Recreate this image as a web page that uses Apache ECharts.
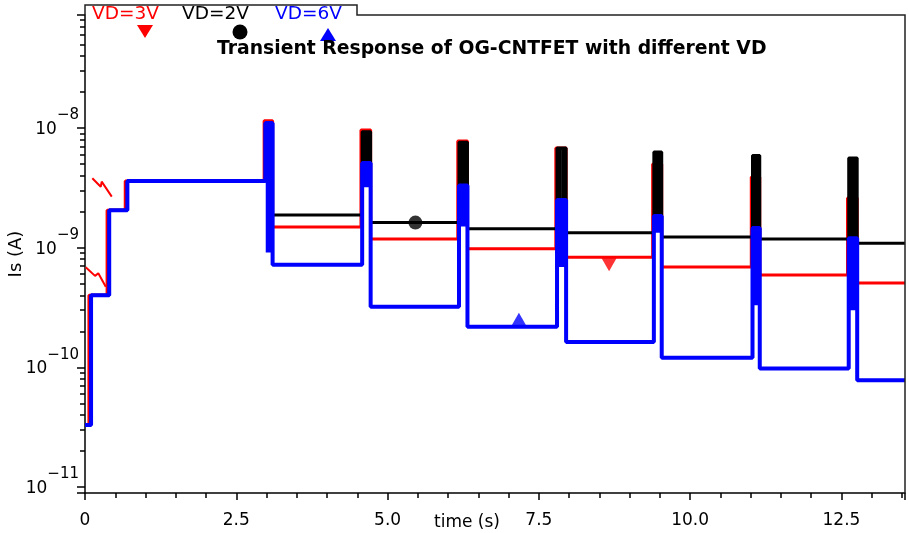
<!DOCTYPE html>
<html>
<head>
<meta charset="utf-8">
<script src="https://cdn.jsdelivr.net/npm/echarts@6/dist/echarts.min.js"></script>
<style>
    html, body { margin: 0; padding: 0; background: #fff; }
    #chart { width: 909px; height: 533px; }
</style>
</head>
<body>
<div id="chart"></div>
<script>
// 起始台阶 (t < 3 s)
var stairTimes = [0, 0.10, 0.40, 0.70];
var stairValues = [3.3e-11, 4.0e-10, 2.05e-9, 3.6e-9];

// 脉冲起止时刻 (s)
var pulseStart = [2.98, 4.58, 6.18, 7.80, 9.40, 11.03, 12.62];
var pulseEnd = [3.10, 4.72, 6.32, 7.95, 9.53, 11.15, 12.76];
var tEnd = 13.55;

// VD=3V
var redPeaks = [1.15e-8, 9.6e-9, 7.8e-9, 6.8e-9, 5.0e-9, 3.9e-9, 2.6e-9];
var redLevels = [1.49e-9, 1.18e-9, 9.8e-10, 8.3e-10, 6.9e-10, 5.9e-10, 5.07e-10];
// VD=2V
var blackPeaks = [1.08e-8, 9.3e-9, 7.6e-9, 6.8e-9, 6.3e-9, 5.9e-9, 5.6e-9];
var blackLevels = [1.87e-9, 1.62e-9, 1.44e-9, 1.33e-9, 1.23e-9, 1.18e-9, 1.09e-9];
// VD=6V
var bluePeaks = [1.1e-8, 5.1e-9, 3.3e-9, 2.5e-9, 1.84e-9, 1.46e-9, 1.2e-9];
var blueInner = [9.1e-10, 3.2e-9, 1.5e-9, 6.9e-10, 1.33e-9, 3.3e-10, 3.0e-10];
var blueLevels = [7.2e-10, 3.2e-10, 2.18e-10, 1.63e-10, 1.2e-10, 9.8e-11, 7.8e-11];

// 红色小折线
var redGlitchUpper = [[0.121, 3.80e-9], [0.260, 3.23e-9], [0.276, 3.56e-9], [0.442, 2.67e-9]];
var redGlitchLower = [[0.012, 6.86e-10], [0.166, 5.81e-10], [0.220, 6.11e-10], [0.343, 4.72e-10]];

// 曲线上的标记点
var markRed = [[8.66, 8.3e-10]];
var markBlack = [[5.46, 1.62e-9]];
var markBlue = [[7.17, 2.18e-10]];

var yMin = 8.91e-12, yMax = 8.79e-8;
var fontName = 'DejaVu Sans';

function stairs(shift) {
    var pts = [[0, stairValues[0]]];
    for (var i = 1; i < stairTimes.length; i++) {
        var t = stairTimes[i] + shift;
        pts.push([t, stairValues[i - 1]], [t, stairValues[i]]);
    }
    return pts;
}

function pulseTrain(levels, peaks, inner, lead, shift) {
    var pts = stairs(shift);
    var prev = stairValues[stairValues.length - 1];
    for (var i = 0; i < pulseStart.length; i++) {
        var ts = pulseStart[i] - lead, te = pulseEnd[i];
        pts.push([ts, prev], [ts, peaks[i]]);
        if (inner) {
            // 脉冲内部来回振荡，画成实心柱
            [0.33, 0.67].forEach(function (f) {
                var tm = pulseStart[i] + f * (te - pulseStart[i]);
                pts.push([tm, peaks[i]], [tm, inner[i]], [tm, peaks[i]]);
            });
        }
        pts.push([te, peaks[i]], [te, levels[i]]);
        prev = levels[i];
    }
    pts.push([tEnd, prev]);
    return pts;
}

function lineSeries(name, data, color, width) {
    return {
        name: name, type: 'line', data: data, symbol: 'none', showSymbol: false,
        lineStyle: {color: color, width: width}, itemStyle: {color: color}, z: 3
    };
}

var chart = echarts.init(document.getElementById('chart'));
var option = {
    animation: false,
    backgroundColor: '#fff',
    title: {
        text: 'Transient Response of OG-CNTFET with different VD',
        left: 212, top: 35,
        textStyle: {fontFamily: fontName, fontWeight: 'bold', fontSize: 18.8, color: '#000'}
    },
    grid: {left: 85, right: 4, top: 15, bottom: 40, show: false, containLabel: false, outerBoundsMode: 'none'},
    xAxis: {
        type: 'value', min: 0, max: tEnd, interval: 2.5,
        axisLine: {lineStyle: {color: '#000', width: 1.5}},
        axisTick: {length: 7, lineStyle: {color: '#000', width: 1.5}},
        minorTick: {show: true, splitNumber: 5, length: 5, lineStyle: {color: '#000', width: 1.5}},
        splitLine: {show: false},
        axisLabel: {
            margin: 19, color: '#000', fontFamily: fontName, fontSize: 17,
            formatter: function (v) {
                if (Math.abs(v / 2.5 - Math.round(v / 2.5)) > 1e-6) return '';
                return v === 0 ? '0' : v.toFixed(1);
            }
        }
    },
    yAxis: {
        type: 'log', logBase: 10, min: yMin, max: yMax,
        name: 'Is (A)', nameLocation: 'middle', nameRotate: 90, nameGap: 60, nameMoveOverlap: false,
        nameTextStyle: {color: '#000', fontFamily: fontName, fontSize: 18},
        axisLine: {lineStyle: {color: '#000', width: 1.5}},
        axisTick: {length: 8, lineStyle: {color: '#000', width: 1.5}},
        minorTick: {show: true, splitNumber: 9, length: 5, lineStyle: {color: '#000', width: 1.5}},
        splitLine: {show: false},
        axisLabel: {
            margin: 6, color: '#000',
            formatter: function (v) {
                var e = Math.log10(v), r = Math.round(e);
                if (Math.abs(e - r) > 1e-6) return '';
                return '{b|10}{s|\u2212' + Math.abs(r) + '}';
            },
            rich: {
                b: {fontFamily: fontName, fontSize: 17, lineHeight: 20, padding: [3, 0, 0, 0], color: '#000'},
                s: {fontFamily: fontName, fontSize: 15, lineHeight: 15, padding: [0, 0, 25, 0], color: '#000'}
            }
        }
    },
    series: [
        lineSeries('VD=3V', pulseTrain(redLevels, redPeaks, null, 0.02, -0.035), '#ff0000', 3),
        lineSeries('VD=3V glitch a', redGlitchUpper, '#ff0000', 2),
        lineSeries('VD=3V glitch b', redGlitchLower, '#ff0000', 2),
        lineSeries('VD=2V', pulseTrain(blackLevels, blackPeaks, bluePeaks, 0, 0), '#000000', 3),
        lineSeries('VD=6V', pulseTrain(blueLevels, bluePeaks, blueInner, 0, 0), '#0000ff', 4),
        {
            type: 'scatter', data: markBlack, symbol: 'circle', symbolSize: 14,
            itemStyle: {color: '#000'}, z: 5
        },
        {
            type: 'scatter', data: markBlue, symbol: 'triangle', symbolSize: [16, 14],
            symbolOffset: [0, -7], itemStyle: {color: '#0000ff'}, z: 5
        },
        {
            type: 'scatter', data: markRed, symbol: 'triangle', symbolSize: [16, 14],
            symbolRotate: 180, symbolOffset: [0, 7], itemStyle: {color: '#ff0000'}, z: 5
        }
    ],
    graphic: [
        // 外框和图例框
        {
            type: 'polyline', z: 10,
            shape: {points: [[85, 15], [85, 5], [357, 5], [357, 15], [905, 15], [905, 493]]},
            style: {stroke: '#222', lineWidth: 1.5, fill: null}
        },
        {type: 'text', left: 92, top: 5, style: {text: 'VD=3V', fill: '#ff0000', font: '18.5px ' + fontName}},
        {type: 'text', left: 182, top: 5, style: {text: 'VD=2V', fill: '#000', font: '18.5px ' + fontName}},
        {type: 'text', left: 275, top: 5, style: {text: 'VD=6V', fill: '#0000ff', font: '18.5px ' + fontName}},
        {type: 'polygon', shape: {points: [[137, 25], [153, 25], [145, 38]]}, style: {fill: '#ff0000'}},
        {type: 'circle', shape: {cx: 240, cy: 32, r: 7.5}, style: {fill: '#000'}},
        {type: 'polygon', shape: {points: [[320, 41], [336, 41], [328, 28]]}, style: {fill: '#0000ff'}},
        {type: 'text', left: 434, top: 514, style: {text: 'time (s)', fill: '#000', font: '17px ' + fontName}}
    ]
};
chart.setOption(option);
</script>
</body>
</html>
